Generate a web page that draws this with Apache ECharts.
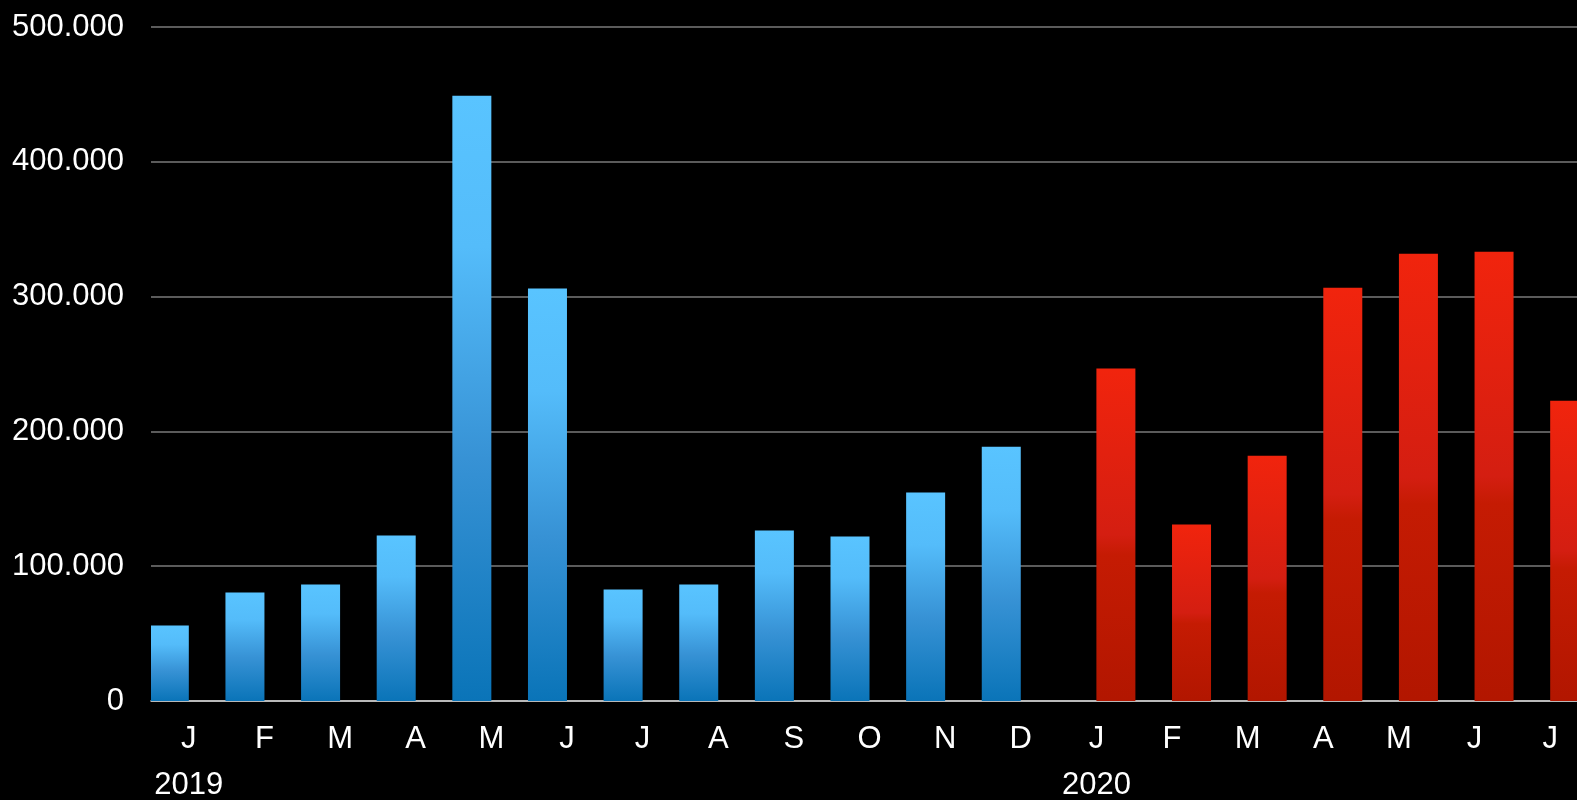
<!DOCTYPE html>
<html>
<head>
<meta charset="utf-8">
<script src="https://cdn.jsdelivr.net/npm/echarts@6/dist/echarts.min.js"></script>
<style>
html,body{margin:0;padding:0;background:#000;overflow:hidden;}
#chart{width:1577px;height:800px;}
</style>
</head>
<body>
<div id="chart"></div>
<script>
const months = ['J','F','M','A','M','J','J','A','S','O','N','D','J','F','M','A','M','J','J'];
const yearLabels = {0: '2019', 12: '2020'};
const values2019 = [56000, 80500, 86400, 122800, 449000, 306000, 82700, 86400, 126500, 122000, 154600, 188700];
const values2020 = [246600, 130900, 182000, 306600, 331800, 333300, 222800];
const yTicks = [0, 100000, 200000, 300000, 400000, 500000];

const blueData = months.map((m, i) => i < values2019.length ? values2019[i] : '-');
const redData = months.map((m, i) => i >= 12 && i - 12 < values2020.length ? values2020[i - 12] : '-');
const categories = months.map((m, i) => m + '|' + i);

const chart = echarts.init(document.getElementById('chart'));
chart.setOption({
  backgroundColor: '#000',
  animation: false,
  grid: {left: 151, width: 1437, top: 27, bottom: 99, containLabel: false, outerBoundsMode: 'none'},
  xAxis: {
    type: 'category',
    data: categories,
    axisTick: {show: false},
    axisLine: {lineStyle: {color: '#d9d9d9', width: 1.5}},
    axisLabel: {
      interval: 0,
      margin: 15,
      formatter: function (v) {
        const parts = v.split('|');
        const i = parseInt(parts[1]);
        const m = parts[0];
        return yearLabels[i] ? '{m|' + m + '}\n{y|' + yearLabels[i] + '}' : '{m|' + m + '}';
      },
      rich: {
        m: {color: '#fff', fontSize: 31, fontFamily: 'Liberation Sans', lineHeight: 46},
        y: {color: '#fff', fontSize: 31, fontFamily: 'Liberation Sans', lineHeight: 46}
      }
    }
  },
  yAxis: {
    type: 'value',
    min: yTicks[0],
    max: yTicks[yTicks.length - 1],
    interval: 100000,
    axisLine: {show: false},
    axisTick: {show: false},
    splitLine: {lineStyle: {color: '#7a7a7a', width: 1.5}},
    axisLabel: {
      color: '#fff', fontSize: 31, fontFamily: 'Liberation Sans', margin: 27,
      formatter: function (v) {
        return v === 0 ? '0' : String(v).replace(/\B(?=(\d{3})+(?!\d))/g, '.');
      }
    }
  },
  series: [
    {
      type: 'bar',
      data: blueData,
      barWidth: 39,
      barGap: '0%',
      itemStyle: {
        color: new echarts.graphic.LinearGradient(0, 0, 0, 1, [
          {offset: 0, color: '#59C4FF'},
          {offset: 0.25, color: '#54BCFA'},
          {offset: 0.6, color: '#3792D5'},
          {offset: 1, color: '#0A74B8'}
        ])
      }
    },
    {
      type: 'bar',
      data: redData,
      barWidth: 39,
      barGap: '0%',
      itemStyle: {
        color: new echarts.graphic.LinearGradient(0, 0, 0, 1, [
          {offset: 0, color: '#F1240D'},
          {offset: 0.5, color: '#D41E11'},
          {offset: 0.56, color: '#C51B03'},
          {offset: 1, color: '#B21600'}
        ])
      }
    }
  ]
});
</script>
</body>
</html>
